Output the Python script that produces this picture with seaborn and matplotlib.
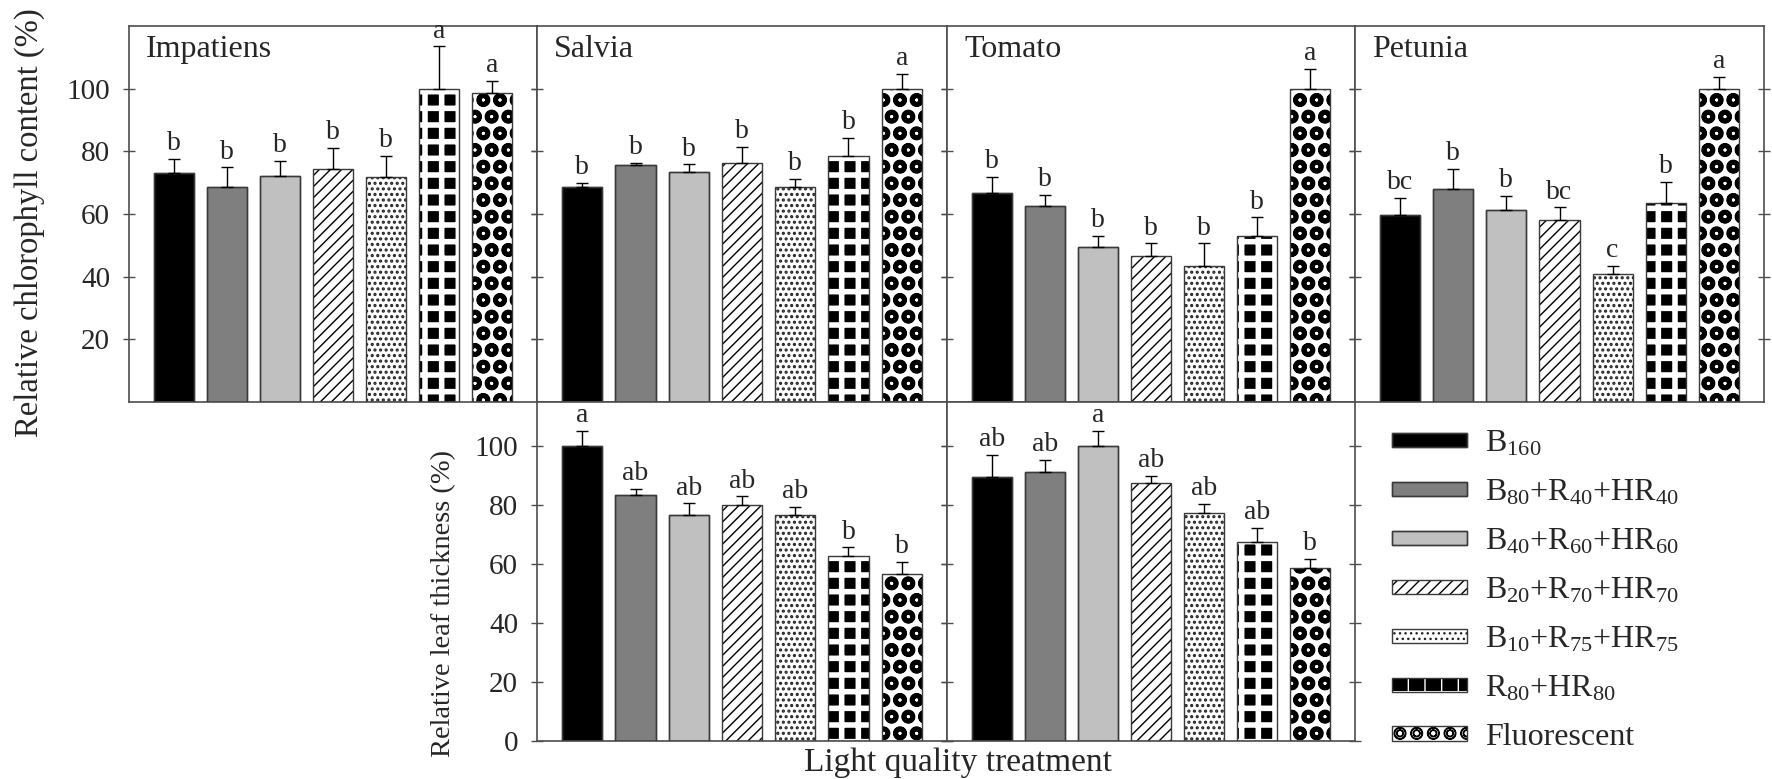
import numpy as np
import pandas as pd
import matplotlib
matplotlib.use("Agg")
import matplotlib.pyplot as plt
from matplotlib.patches import Rectangle
from matplotlib.legend_handler import HandlerTuple
import seaborn as sns

# ---- data ---------------------------------------------------------------
treatments = ["B160", "B80+R40+HR40", "B40+R60+HR60", "B20+R70+HR70",
              "B10+R75+HR75", "R80+HR80", "Fluorescent"]
legend_labels = [r"B$_{\mathrm{160}}$",
                 r"B$_{\mathrm{80}}$+R$_{\mathrm{40}}$+HR$_{\mathrm{40}}$",
                 r"B$_{\mathrm{40}}$+R$_{\mathrm{60}}$+HR$_{\mathrm{60}}$",
                 r"B$_{\mathrm{20}}$+R$_{\mathrm{70}}$+HR$_{\mathrm{70}}$",
                 r"B$_{\mathrm{10}}$+R$_{\mathrm{75}}$+HR$_{\mathrm{75}}$",
                 r"R$_{\mathrm{80}}$+HR$_{\mathrm{80}}$",
                 "Fluorescent"]

chl_impatiens = [73.0, 68.5, 72.2, 74.5, 71.8, 100.0, 98.7]
chl_impatiens_se = [4.7, 6.4, 4.8, 6.7, 6.8, 13.5, 3.8]
chl_impatiens_grp = ["b", "b", "b", "b", "b", "a", "a"]

chl_salvia = [68.5, 75.7, 73.4, 76.2, 68.5, 78.6, 100.0]
chl_salvia_se = [1.4, 0.7, 2.4, 5.3, 2.8, 5.6, 4.6]
chl_salvia_grp = ["b", "b", "b", "b", "b", "b", "a"]

chl_tomato = [66.7, 62.5, 49.5, 46.6, 43.3, 53.1, 100.0]
chl_tomato_se = [5.2, 3.7, 3.6, 4.0, 7.3, 5.8, 6.2]
chl_tomato_grp = ["b", "b", "b", "b", "b", "b", "a"]

chl_petunia = [59.8, 68.0, 61.3, 58.0, 40.9, 63.5, 100.0]
chl_petunia_se = [5.3, 6.3, 4.5, 4.1, 2.6, 6.8, 3.8]
chl_petunia_grp = ["bc", "b", "b", "bc", "c", "b", "a"]

thick_salvia = [100.0, 83.5, 76.6, 80.0, 76.6, 62.7, 56.8]
thick_salvia_se = [5.2, 1.9, 4.0, 3.0, 2.9, 3.0, 3.9]
thick_salvia_grp = ["a", "ab", "ab", "ab", "ab", "b", "b"]

thick_tomato = [89.7, 91.2, 100.0, 87.5, 77.4, 67.4, 58.7]
thick_tomato_se = [7.3, 4.2, 5.1, 2.4, 3.0, 5.0, 3.1]
thick_tomato_grp = ["ab", "ab", "a", "ab", "ab", "ab", "b"]

chl_ticks = [20, 40, 60, 80, 100]
thick_ticks = [0, 20, 40, 60, 80, 100]

# ---- style ---------------------------------------------------------------
sns.set_style("white")
plt.rcParams["font.family"] = ["Liberation Serif", "DejaVu Serif"]
plt.rcParams["mathtext.fontset"] = "custom"
plt.rcParams["mathtext.rm"] = "Liberation Serif"
plt.rcParams["mathtext.it"] = "Liberation Serif:italic"
plt.rcParams["axes.edgecolor"] = "#4d4d4d"

OUTLINE = "#3a3a3a"
# face colour, hatch, hatch colour, hatch line width
bar_styles = [
    ("black", None, None, None),
    ("#7f7f7f", None, None, None),
    ("#c0c0c0", None, None, None),
    ("white", "///", "black", 1.0),
    ("white", "...", "#222222", 1.5),
    ("black", "+", "white", 4.0),
    ("white", "oO", "black", 1.7),
]


def style_patch(p, k):
    face, hatch, hc, hlw = bar_styles[k]
    p.set_facecolor(face)
    if hatch:
        p.set_hatch(hatch)
        p.set_edgecolor(hc)
        p.set_linewidth(0)
        if hasattr(p, "set_hatch_linewidth"):
            p.set_hatch_linewidth(hlw)
    else:
        p.set_edgecolor(OUTLINE)
        p.set_linewidth(1.0)


W, H = 1772, 779
fig = plt.figure(figsize=(W / 100, H / 100), dpi=100)


def px_axes(x0, x1, y0, y1):
    return fig.add_axes([x0 / W, 1 - y1 / H, (x1 - x0) / W, (y1 - y0) / H])


def panel(ax, vals, se, grp, ylim, ticks, title=None, show_labels=True):
    df = pd.DataFrame({"treatment": treatments, "value": vals})
    sns.barplot(data=df, x="treatment", y="value", hue="treatment",
                order=treatments, hue_order=treatments, palette=["white"] * 7,
                legend=False, errorbar=None, width=0.755, ax=ax)
    for p in list(ax.patches):
        k = int(round(p.get_x() + p.get_width() / 2))
        style_patch(p, k)
        ax.add_patch(Rectangle((p.get_x(), p.get_y()), p.get_width(), p.get_height(),
                               fill=False, edgecolor=OUTLINE, linewidth=1.0, zorder=3))
    xs = np.arange(len(treatments))
    ax.errorbar(xs, vals, yerr=[np.zeros(len(vals)), se], fmt="none",
                ecolor="black", elinewidth=1.0, capsize=4.3, capthick=1.0, zorder=4)
    for x, v, e, g in zip(xs, vals, se, grp):
        ax.annotate(g, (x, v + e), xytext=(0, 2), textcoords="offset points",
                    ha="center", va="bottom", fontsize=20, annotation_clip=False)
    ax.set_xlim(-0.85, 6.85)
    ax.set_ylim(*ylim)
    ax.set_yticks(ticks)
    ax.set_xticks([])
    ax.set_xlabel("")
    ax.set_ylabel("")
    ax.tick_params(axis="y", which="both", direction="inout", length=9, width=1.0,
                   left=True, right=True, labelleft=show_labels, labelsize=21,
                   pad=9, color="#4d4d4d")
    for s in ax.spines.values():
        s.set_linewidth(1.2)
        s.set_visible(True)
    if title:
        ax.text(0.042, 0.917, title, transform=ax.transAxes, fontsize=23,
                ha="left", va="baseline")


xb = [129, 537, 947, 1355, 1764]
top_y = (26, 402)
bot_y = (402, 741)

ax1 = px_axes(xb[0], xb[1], *top_y)
ax2 = px_axes(xb[1], xb[2], *top_y)
ax3 = px_axes(xb[2], xb[3], *top_y)
ax4 = px_axes(xb[3], xb[4], *top_y)
ax5 = px_axes(xb[1], xb[2], *bot_y)
ax6 = px_axes(xb[2], xb[3], *bot_y)

panel(ax1, chl_impatiens, chl_impatiens_se, chl_impatiens_grp, (0, 120), chl_ticks, "Impatiens")
panel(ax2, chl_salvia, chl_salvia_se, chl_salvia_grp, (0, 120), chl_ticks, "Salvia", False)
panel(ax3, chl_tomato, chl_tomato_se, chl_tomato_grp, (0, 120), chl_ticks, "Tomato", False)
panel(ax4, chl_petunia, chl_petunia_se, chl_petunia_grp, (0, 120), chl_ticks, "Petunia", False)
panel(ax5, thick_salvia, thick_salvia_se, thick_salvia_grp, (0, 115), thick_ticks)
panel(ax6, thick_tomato, thick_tomato_se, thick_tomato_grp, (0, 115), thick_ticks, None, False)

ax1.set_ylabel("Relative chlorophyll content (%)", fontsize=23.5)
ax1.yaxis.set_label_coords(-0.206, 0.476)
ax5.set_ylabel("Relative leaf thickness (%)", fontsize=20.5)
ax5.yaxis.set_label_coords(-0.197, 0.405)
fig.text(958 / W, 1 - 763 / H, "Light quality treatment", fontsize=24,
         ha="center", va="center")

# legend: a styled swatch with a dark outline laid over it
handles = []
for k in range(len(treatments)):
    sw = Rectangle((0, 0), 1, 1)
    style_patch(sw, k)
    frame = Rectangle((0, 0), 1, 1, fill=False, edgecolor=OUTLINE, linewidth=1.0)
    handles.append((sw, frame))
fig.legend(handles, legend_labels, loc="upper left",
           bbox_to_anchor=(1392 / W, 1 - 429 / H), bbox_transform=fig.transFigure,
           frameon=False, fontsize=23, handlelength=2.35, handleheight=0.31,
           handletextpad=0.56, labelspacing=0.61, borderaxespad=0, borderpad=0,
           handler_map={tuple: HandlerTuple(ndivide=1, pad=0)})

fig.savefig("out.png", dpi=100)
